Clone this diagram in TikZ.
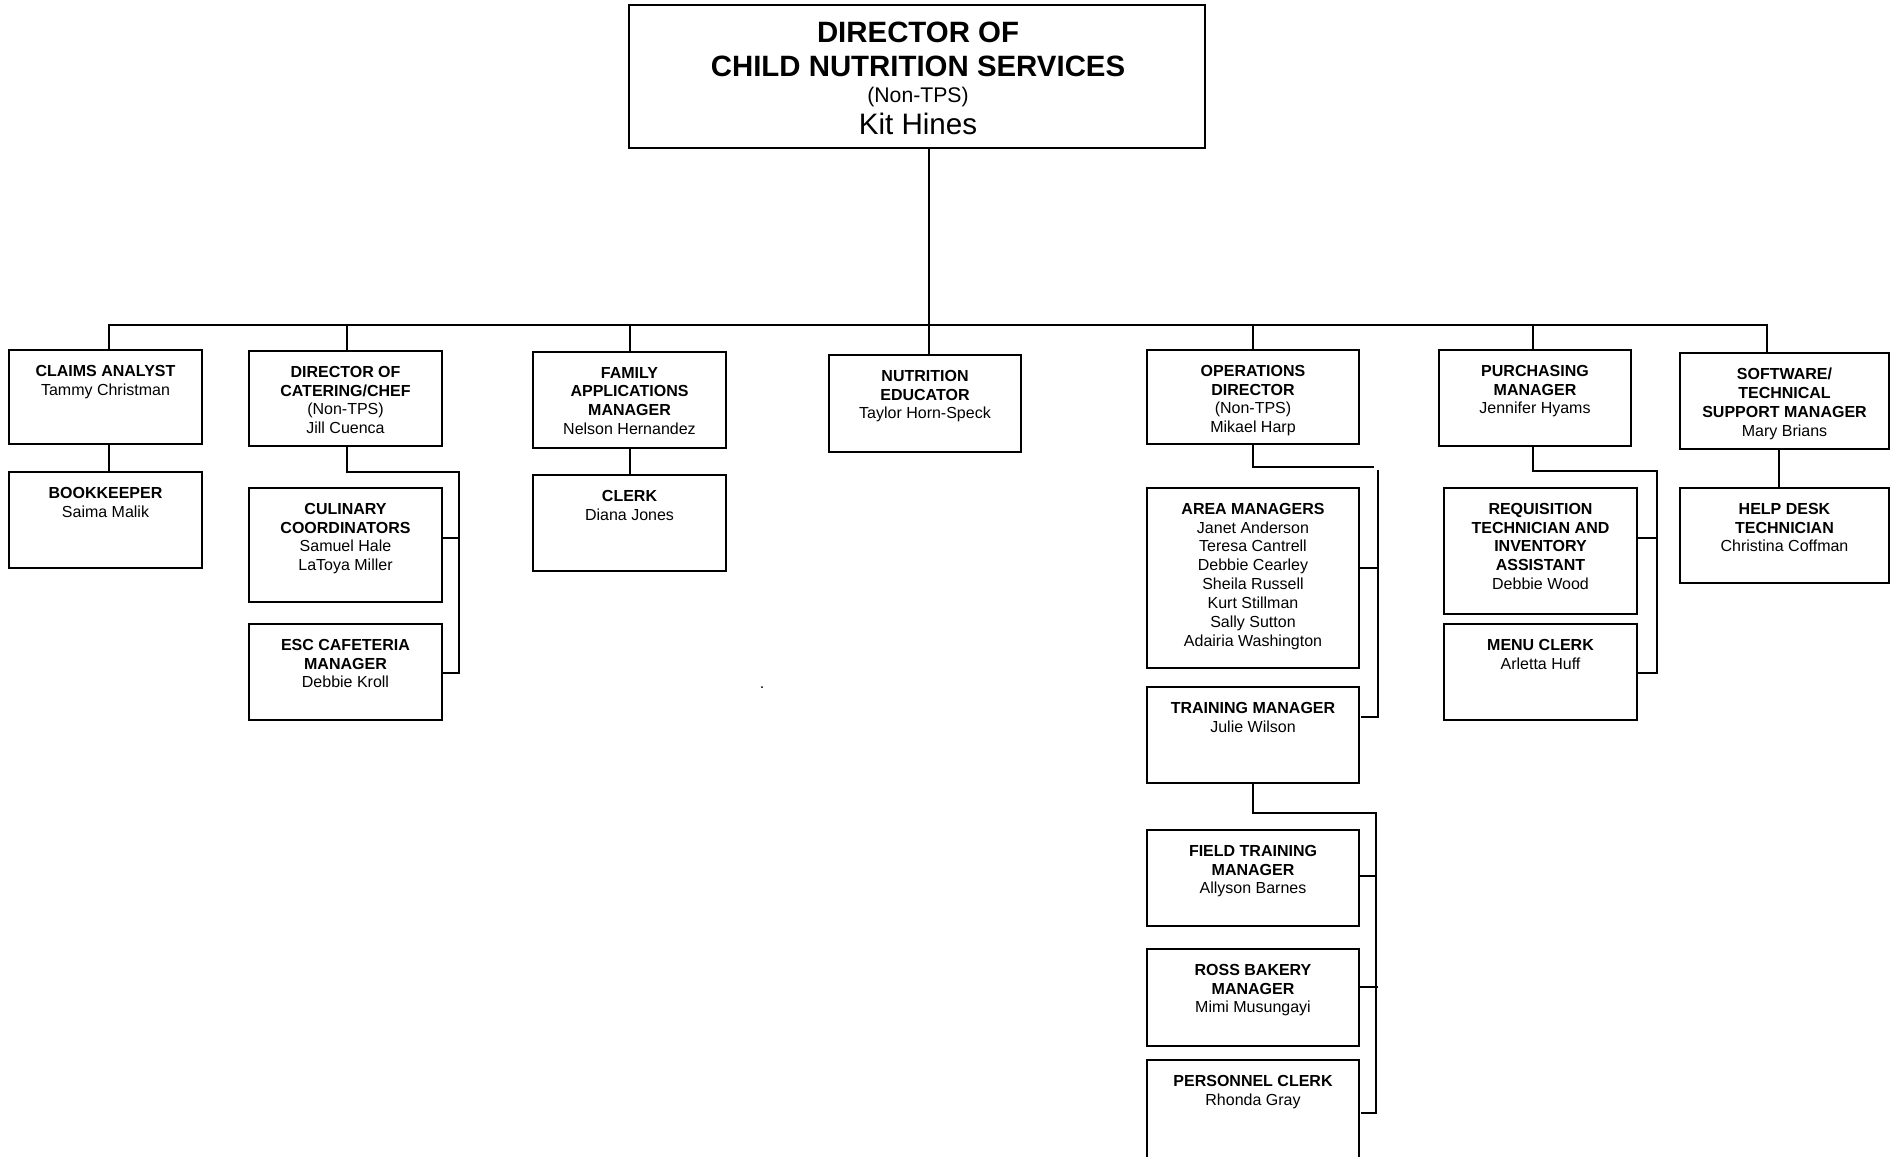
\documentclass[tikz,border=0pt]{standalone}
\usepackage{fontspec}
\setmainfont{Liberation Sans}
\usetikzlibrary{fit}
\begin{document}
\begin{tikzpicture}[x=0.5pt,y=-0.5pt,
  bx/.style={draw=black, line width=1pt, inner sep=0pt, outer sep=0pt, rectangle},
  txt/.style={align=center, inner sep=0pt, outer sep=0pt, anchor=north, yshift=-7.5pt,
    font=\fontsize{8}{9.45}\selectfont},
  ln/.style={draw=black, line width=1pt},
  ttl/.style={anchor=base, inner sep=0pt, font=\fontsize{14.7}{16}\selectfont\bfseries}]
\useasboundingbox (0,0) rectangle (1894,1156);
\clip (0,0) rectangle (1894,1156);
\fill[white] (0,0) rectangle (1894,1156);

% boxes
\node[bx, fit={(629,5)(1205,148)}] (dir) {};
\node[bx, fit={(9,350)(202,444)}] (claims) {};
\node[bx, fit={(9,472)(202,568)}] (book) {};
\node[bx, fit={(249,351)(442,446)}] (cater) {};
\node[bx, fit={(249,488)(442,602)}] (culin) {};
\node[bx, fit={(249,624)(442,720)}] (esc) {};
\node[bx, fit={(533,352)(726,448)}] (fam) {};
\node[bx, fit={(533,475)(726,571)}] (clerk) {};
\node[bx, fit={(829,355)(1021,452)}] (nutr) {};
\node[bx, fit={(1147,350)(1359,444)}] (ops) {};
\node[bx, fit={(1147,488)(1359,668)}] (area) {};
\node[bx, fit={(1147,687)(1359,783)}] (train) {};
\node[bx, fit={(1147,830)(1359,926)}] (field) {};
\node[bx, fit={(1147,949)(1359,1046)}] (ross) {};
\node[bx, fit={(1147,1060)(1359,1180)}] (pers) {};
\node[bx, fit={(1439,350)(1631,446)}] (purch) {};
\node[bx, fit={(1444,488)(1637,614)}] (req) {};
\node[bx, fit={(1444,624)(1637,720)}] (menu) {};
\node[bx, fit={(1680,353)(1889,449)}] (soft) {};
\node[bx, fit={(1680,488)(1889,583)}] (help) {};

% top title
\node[ttl] (dirT1) at (918,43) {DIRECTOR OF};
\node[ttl] (dirT2) at (918,76) {CHILD NUTRITION SERVICES};
\node[anchor=base, inner sep=0pt, font=\fontsize{10.6}{12}\selectfont] (dirT3) at (918,103) {(Non-TPS)};
\node[anchor=base, inner sep=0pt, font=\fontsize{14.8}{16}\selectfont] (dirT4) at (918,134) {Kit Hines};

% box texts
\node[txt] (claimsT) at (claims.north) {\textbf{CLAIMS ANALYST}\\Tammy Christman};
\node[txt] (bookT) at (book.north) {\textbf{BOOKKEEPER}\\Saima Malik};
\node[txt] (caterT) at (cater.north) {\textbf{DIRECTOR OF}\\\textbf{CATERING/CHEF}\\(Non-TPS)\\Jill Cuenca};
\node[txt] (culinT) at (culin.north) {\textbf{CULINARY}\\\textbf{COORDINATORS}\\Samuel Hale\\LaToya Miller};
\node[txt] (escT) at (esc.north) {\textbf{ESC CAFETERIA}\\\textbf{MANAGER}\\Debbie Kroll};
\node[txt] (famT) at (fam.north) {\textbf{FAMILY}\\\textbf{APPLICATIONS}\\\textbf{MANAGER}\\Nelson Hernandez};
\node[txt] (clerkT) at (clerk.north) {\textbf{CLERK}\\Diana Jones};
\node[txt] (nutrT) at (nutr.north) {\textbf{NUTRITION}\\\textbf{EDUCATOR}\\Taylor Horn-Speck};
\node[txt] (opsT) at (ops.north) {\textbf{OPERATIONS}\\\textbf{DIRECTOR}\\(Non-TPS)\\Mikael Harp};
\node[txt] (areaT) at (area.north) {\textbf{AREA MANAGERS}\\Janet Anderson\\Teresa Cantrell\\Debbie Cearley\\Sheila Russell\\Kurt Stillman\\Sally Sutton\\Adairia Washington};
\node[txt] (trainT) at (train.north) {\textbf{TRAINING MANAGER}\\Julie Wilson};
\node[txt] (fieldT) at (field.north) {\textbf{FIELD TRAINING}\\\textbf{MANAGER}\\Allyson Barnes};
\node[txt] (rossT) at (ross.north) {\textbf{ROSS BAKERY}\\\textbf{MANAGER}\\Mimi Musungayi};
\node[txt] (persT) at (pers.north) {\textbf{PERSONNEL CLERK}\\Rhonda Gray};
\node[txt] (purchT) at (purch.north) {\textbf{PURCHASING}\\\textbf{MANAGER}\\Jennifer Hyams};
\node[txt] (reqT) at (req.north) {\textbf{REQUISITION}\\\textbf{TECHNICIAN AND}\\\textbf{INVENTORY}\\\textbf{ASSISTANT}\\Debbie Wood};
\node[txt] (menuT) at (menu.north) {\textbf{MENU CLERK}\\Arletta Huff};
\node[txt] (softT) at (soft.north) {\textbf{SOFTWARE/}\\\textbf{TECHNICAL}\\\textbf{SUPPORT MANAGER}\\Mary Brians};
\node[txt] (helpT) at (help.north) {\textbf{HELP DESK}\\\textbf{TECHNICIAN}\\Christina Coffman};

% stray dot
\node[anchor=base, inner sep=0pt, font=\fontsize{8}{9}\selectfont] (dot) at (762,688) {.};

% bus drop points
\coordinate (b1) at (109,325);
\coordinate (b2) at (347,325);
\coordinate (b3) at (630,325);
\coordinate (b4) at (929,325);
\coordinate (b5) at (1253,325);
\coordinate (b6) at (1533,325);
\coordinate (b7) at (1767,325);
\coordinate (sh) at (1779,449);

% bus and drops
\draw[ln] (claims.north -| b1) |- (b7) -- (soft.north -| b7);
\draw[ln] (dir.south -| b4) -- (nutr.north -| b4);
\draw[ln] (b2) -- (cater.north -| b2);
\draw[ln] (b3) -- (fam.north -| b3);
\draw[ln] (b5) -- (ops.north -| b5);
\draw[ln] (b6) -- (purch.north -| b6);

% simple vertical links
\draw[ln] (claims.south -| b1) -- (book.north -| b1);
\draw[ln] (fam.south -| b3) -- (clerk.north -| b3);
\draw[ln] (sh) -- (help.north -| sh);

% catering bracket
\coordinate (cTop) at (459,472);
\coordinate (cB1) at (459,538);
\coordinate (cB2) at (459,673);
\draw[ln] (cater.south -| b2) |- (cTop) |- (esc.east |- cB2);
\draw[ln] (cB1) -- (culin.east |- cB1);

% operations bracket
\coordinate (oH) at (1374,467);
\coordinate (oTop) at (1378,470);
\coordinate (oB1) at (1378,568);
\coordinate (oB2) at (1378,717);
\draw[ln] (ops.south -| b5) |- (oH);
\draw[ln] (oTop) |- ([xshift=1pt]train.east |- oB2);
\draw[ln] (oB1) -- (area.east |- oB1);

% training bracket
\coordinate (tTop) at (1376,813);
\coordinate (tB1) at (1376,876);
\coordinate (tB2) at (1378,987);
\coordinate (tB3) at (1376,1113);
\draw[ln] (train.south) |- (tTop) |- ([xshift=1pt]pers.east |- tB3);
\draw[ln] (tB1) -- (field.east |- tB1);
\draw[ln] (tB2) -- (ross.east |- tB2);

% purchasing bracket
\coordinate (pTop) at (1657,471);
\coordinate (pB1) at (1657,538);
\coordinate (pB2) at (1657,673);
\draw[ln] (purch.south -| b6) |- (pTop) |- (menu.east |- pB2);
\draw[ln] (pB1) -- (req.east |- pB1);
\end{tikzpicture}
\end{document}
